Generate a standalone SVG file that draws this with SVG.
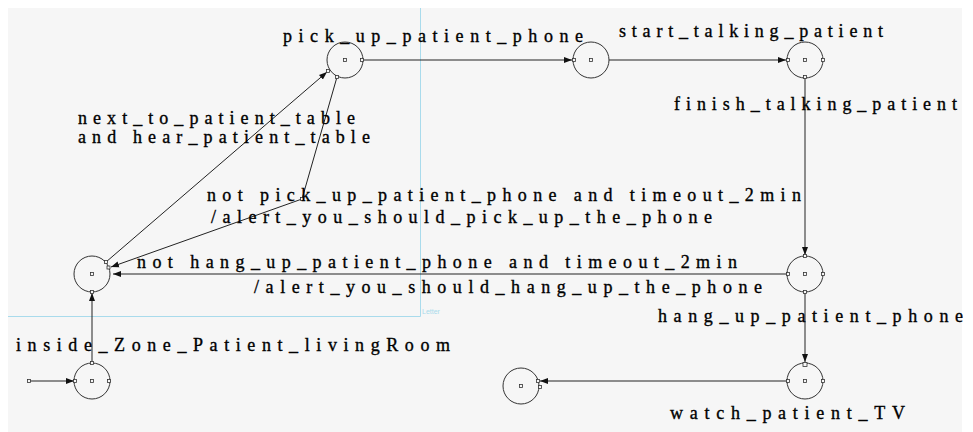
<svg xmlns="http://www.w3.org/2000/svg" width="973" height="432" viewBox="0 0 973 432">
<style>
.st{fill:none;stroke:#333;stroke-width:1}
.pt{fill:#f6f6f6;stroke:#333;stroke-width:0.8}
.cn{fill:none;stroke:#222;stroke-width:1}
.page{stroke:#a9dbec;stroke-width:1;fill:none}
</style>
<defs>
<marker id="ah" markerUnits="userSpaceOnUse" markerWidth="9" markerHeight="7" refX="8" refY="3.5" orient="auto">
<path d="M0,0.5 L8,3.5 L0,6.5 z" fill="#111"/>
</marker>
</defs>
<rect x="0" y="0" width="973" height="432" fill="#ffffff"/>
<rect x="8" y="8" width="954" height="424" fill="#f6f6f6"/>
<g id="page-border">
<path class="page" d="M420.5,8 V316.5 H8"/>
<text x="422" y="314" font-family="Liberation Sans, sans-serif" font-size="7" fill="#a9dbec">Letter</text>
</g>
<g id="connectors">
<path class="cn" d="M29,381 H74" marker-end="url(#ah)"/>
<path class="cn" d="M92,363 V293" marker-end="url(#ah)"/>
<path class="cn" d="M337,77 L302,199 L111,267" marker-end="url(#ah)"/>
<path class="cn" d="M106,262 L327,72" marker-end="url(#ah)"/>
<path class="cn" d="M363,60 H572" marker-end="url(#ah)"/>
<path class="cn" d="M609,60 H786" marker-end="url(#ah)"/>
<path class="cn" d="M805,77 V255" marker-end="url(#ah)"/>
<path class="cn" d="M787,274 H113" marker-end="url(#ah)"/>
<path class="cn" d="M805,292 V362" marker-end="url(#ah)"/>
<path class="cn" d="M787,381 H540" marker-end="url(#ah)"/>
<rect class="pt" x="300.5" y="197.5" width="3" height="3"/>
<rect class="pt" x="27.5" y="379.5" width="3" height="3"/>
</g>
<g id="node-pick_up_patient_phone">
<circle class="st" cx="345" cy="60" r="18"/>
<rect class="pt" x="343.5" y="58.5" width="3" height="3"/>
<rect class="pt" x="360.5" y="58.5" width="3" height="3"/>
<rect class="pt" x="326.5" y="69.5" width="3" height="3"/>
<rect class="pt" x="335.5" y="75.5" width="3" height="3"/>
</g>
<g id="node-start_talking">
<circle class="st" cx="591" cy="60" r="18"/>
<rect class="pt" x="589.5" y="58.5" width="3" height="3"/>
<rect class="pt" x="572.5" y="58.5" width="3" height="3"/>
</g>
<g id="node-finish_talking">
<circle class="st" cx="805" cy="60" r="18"/>
<rect class="pt" x="803.5" y="58.5" width="3" height="3"/>
<rect class="pt" x="786.5" y="58.5" width="3" height="3"/>
<rect class="pt" x="821.5" y="58.5" width="3" height="3"/>
<rect class="pt" x="803.5" y="75.5" width="3" height="3"/>
</g>
<g id="node-hang_up">
<circle class="st" cx="805" cy="274" r="18"/>
<rect class="pt" x="803.5" y="272.5" width="3" height="3"/>
<rect class="pt" x="803.5" y="254.5" width="3" height="3"/>
<rect class="pt" x="786.5" y="272.5" width="3" height="3"/>
<rect class="pt" x="821.5" y="272.5" width="3" height="3"/>
<rect class="pt" x="803.5" y="290.5" width="3" height="3"/>
</g>
<g id="node-watch_patient_TV">
<circle class="st" cx="805" cy="381" r="18"/>
<rect class="pt" x="803.5" y="379.5" width="3" height="3"/>
<rect class="pt" x="803" y="362.5" width="4" height="4"/>
<rect class="pt" x="786.5" y="379.5" width="3" height="3"/>
<rect class="pt" x="821.5" y="379.5" width="3" height="3"/>
</g>
<g id="node-final">
<circle class="st" cx="521" cy="386" r="18"/>
<rect class="pt" x="519.5" y="384.5" width="3" height="3"/>
<rect class="pt" x="536.5" y="379.5" width="3" height="3"/>
<rect class="pt" x="538.5" y="385.5" width="3" height="3"/>
</g>
<g id="node-alert">
<circle class="st" cx="92" cy="274" r="18"/>
<rect class="pt" x="90.5" y="272.5" width="3" height="3"/>
<rect class="pt" x="104.5" y="260.5" width="3" height="3"/>
<rect class="pt" x="107" y="266" width="3" height="3"/>
<rect class="pt" x="90.5" y="290.5" width="3" height="3"/>
</g>
<g id="node-living_room">
<circle class="st" cx="92" cy="381" r="18"/>
<rect class="pt" x="90.5" y="379.5" width="3" height="3"/>
<rect class="pt" x="73.5" y="379.5" width="3" height="3"/>
<rect class="pt" x="107.5" y="379.5" width="3" height="3"/>
<rect class="pt" x="90.5" y="361.5" width="3" height="3"/>
</g>
<g id="labels" font-family="Liberation Serif, serif" font-size="18" fill="#000" stroke="#000" stroke-width="0.35">
<text x="283" y="42" textLength="300" lengthAdjust="spacing">pick_up_patient_phone</text>
<text x="619" y="37" textLength="264" lengthAdjust="spacing">start_talking_patient</text>
<text x="674" y="110" textLength="283" lengthAdjust="spacing">finish_talking_patient</text>
<text x="78" y="124" textLength="277" lengthAdjust="spacing">next_to_patient_table</text>
<text x="78" y="142.5" textLength="292" lengthAdjust="spacing">and hear_patient_table</text>
<text x="207" y="200.5" textLength="594" lengthAdjust="spacing">not pick_up_patient_phone and timeout_2min</text>
<text x="211" y="222.5" textLength="501" lengthAdjust="spacing">/alert_you_should_pick_up_the_phone</text>
<text x="137" y="268" textLength="600" lengthAdjust="spacing">not hang_up_patient_phone and timeout_2min</text>
<text x="254" y="293" textLength="508" lengthAdjust="spacing">/alert_you_should_hang_up_the_phone</text>
<text x="16" y="351" textLength="434" lengthAdjust="spacing">inside_Zone_Patient_livingRoom</text>
<text x="658" y="321.5" textLength="305" lengthAdjust="spacing">hang_up_patient_phone</text>
<text x="670" y="419" textLength="235" lengthAdjust="spacing">watch_patient_TV</text>
</g>
</svg>
